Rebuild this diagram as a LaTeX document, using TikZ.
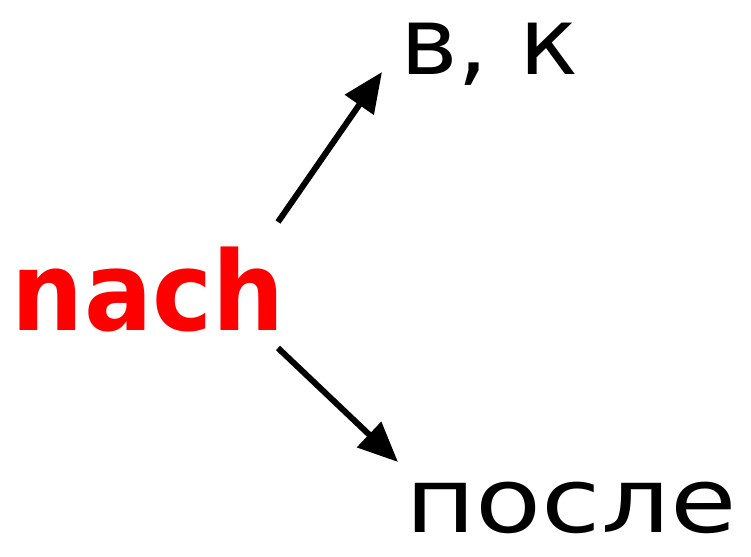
\documentclass[tikz,border=0pt]{standalone}
\usepackage{fontspec}
\setmainfont{DejaVu Sans}
\usetikzlibrary{arrows.meta}
\definecolor{nachred}{RGB}{255,0,0}
\tikzset{
  word/.style={anchor=base west, inner sep=0pt, outer sep=0pt, text height=0.6em, text depth=0.15em},
  arr/.style={line width=6pt, -{Triangle[length=40pt,width=34pt]}},
}
\begin{document}
\begin{tikzpicture}[x=1pt,y=-1pt]
\useasboundingbox (0,0) rectangle (751,556);
\node[word, text=nachred, font=\fontsize{110}{120}\selectfont\bfseries, xscale=0.92] (nach) at (12,330) {nach};
\node[word, font=\fontsize{94}{100}\selectfont, xscale=1.04] (vk) at (400,75) {в, к};
\node[word, font=\fontsize{90}{100}\selectfont, xscale=1.2] (posle) at (405,532) {после};
\coordinate (s1) at (278,222);
\coordinate (e1) at (382,72);
\coordinate (s2) at (278,348);
\coordinate (e2) at (398,462);
\draw[arr] (s1) -- (e1);
\draw[arr] (s2) -- (e2);
\end{tikzpicture}
\end{document}
